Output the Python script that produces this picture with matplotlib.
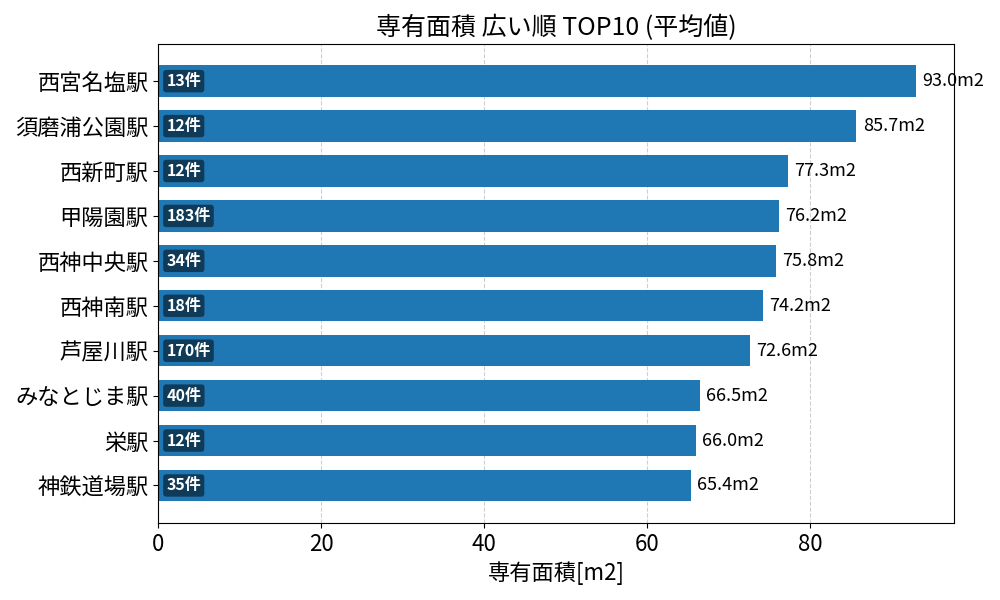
import matplotlib
matplotlib.use("Agg")
import matplotlib.pyplot as plt

plt.rcParams['font.family'] = ['Noto Sans CJK JP', 'DejaVu Sans']

# data (top to bottom)
stations = ['西宮名塩駅', '須磨浦公園駅', '西新町駅', '甲陽園駅', '西神中央駅',
            '西神南駅', '芦屋川駅', 'みなとじま駅', '栄駅', '神鉄道場駅']
areas = [93.0, 85.7, 77.3, 76.2, 75.8, 74.2, 72.6, 66.5, 66.0, 65.4]
counts = [13, 12, 12, 183, 34, 18, 170, 40, 12, 35]

fig, ax = plt.subplots(figsize=(10, 6), dpi=100)
ypos = list(range(len(stations)))
ax.barh(ypos, areas, height=0.7, color='#1f77b4', zorder=2)
ax.set_yticks(ypos)
ax.set_yticklabels(stations, fontsize=16)
ax.invert_yaxis()
ax.set_xlim(0, max(areas) * 1.05)
ax.tick_params(axis='x', labelsize=16)
ax.grid(axis='x', linestyle='--', alpha=0.6, zorder=0)
ax.set_axisbelow(True)

for y, a, c in zip(ypos, areas, counts):
    ax.text(a + 0.8, y, f'{a:.1f}m2', va='center', ha='left', fontsize=13)
    ax.text(1.0, y, f'{c}件', va='center', ha='left', fontsize=11.5,
            color='white', fontweight='bold',
            bbox=dict(boxstyle='round,pad=0.2', facecolor='black', alpha=0.5,
                      edgecolor='none'))

ax.set_title('専有面積 広い順 TOP10 (平均値)', fontsize=18)
ax.set_xlabel('専有面積[m2]', fontsize=16)

plt.tight_layout()
plt.savefig('out.png')
